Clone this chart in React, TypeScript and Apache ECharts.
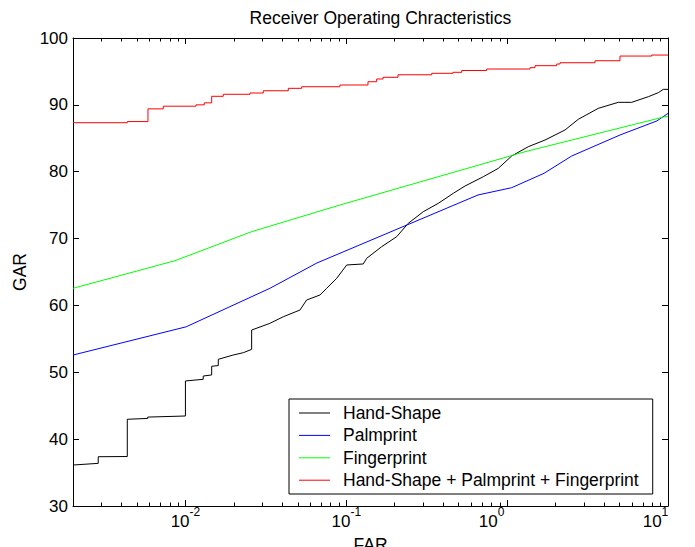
import React, { useEffect, useRef } from "react";
import * as echarts from "echarts";

const FONT = "'Liberation Sans', Arial, Helvetica, sans-serif";

const TITLE = "Receiver Operating Chracteristics";
const X_NAME = "FAR";
const Y_NAME = "GAR";
const SERIES_NAMES = [
  "Hand-Shape",
  "Palmprint",
  "Fingerprint",
  "Hand-Shape + Palmprint + Fingerprint",
];
const SERIES_COLORS = ["#000000", "#0000ff", "#00ff00", "#ff0000"];

const X_MIN = 0.002;
const X_MAX = 10;
const X_MAJOR_EXPONENTS = [-2, -1, 0, 1];
const Y_MIN = 30;
const Y_MAX = 100;
const Y_STEP = 10;

// Hand-Shape (black)
const HAND_FAR = [
  0.002, 0.00287, 0.00287, 0.00435, 0.00435, 0.00583, 0.00583, 0.01, 0.01,
  0.0129, 0.0129, 0.01456, 0.01456, 0.016, 0.016, 0.0198, 0.0229, 0.0258,
  0.0258, 0.0335, 0.0406, 0.0515, 0.0567, 0.0686, 0.0755, 0.0872, 0.1006,
  0.1275, 0.1339, 0.166, 0.2057, 0.2428, 0.3011, 0.3732, 0.4626, 0.547,
  0.7106, 0.881, 1.067, 1.353, 1.72, 2.289, 2.769, 3.687, 4.909, 5.948, 7.541,
  8.7, 9.35, 10,
];
const HAND_GAR = [
  36.13, 36.38, 37.37, 37.4, 42.97, 43.1, 43.3, 43.46, 48.7, 48.95, 49.44,
  49.6, 50.9, 51.0, 51.94, 52.58, 52.93, 53.43, 56.32, 57.32, 58.31, 59.31,
  60.81, 61.56, 62.56, 64.06, 66.05, 66.2, 67.05, 68.79, 70.28, 72.28, 74.02,
  75.27, 76.77, 77.86, 79.25, 80.5, 82.35, 83.74, 84.74, 86.24, 87.84, 89.48,
  90.38, 90.38, 91.22, 91.82, 92.32, 92.32,
];

// Palmprint (blue)
const PALM_FAR = [0.002, 0.0101, 0.0335, 0.0657, 0.659, 1.067, 1.695, 2.52, 5.03, 8.54, 10];
const PALM_GAR = [52.58, 56.8, 62.56, 66.35, 76.52, 77.61, 79.76, 82.35, 85.49, 87.6, 88.73];

// Fingerprint (green)
const FINGER_FAR = [0.002, 0.00861, 0.0258, 0.0913, 1.291, 9.58, 10];
const FINGER_GAR = [62.56, 66.69, 71.03, 75.02, 82.99, 88.23, 88.3];

// Fusion (red)
const FUSION_FAR = [
  0.002, 0.00435, 0.00585, 0.00728, 0.01163, 0.0131, 0.01456, 0.01719,
  0.02519, 0.03048, 0.04359, 0.05282, 0.0913, 0.1364, 0.1545, 0.1691, 0.2096,
  0.3396, 0.4607, 0.5218, 0.7462, 1.387, 1.49, 2.032, 2.131, 3.518, 5.03,
  7.92, 10,
];
const FUSION_GAR = [
  87.33, 87.5, 89.4, 89.8, 90.0, 90.3, 91.28, 91.58, 91.77, 92.11, 92.47,
  92.71, 92.97, 93.46, 93.87, 94.12, 94.5, 94.72, 94.87, 95.14, 95.36, 95.56,
  95.86, 96.11, 96.3, 96.6, 97.3, 97.45, 97.45,
];

function measure(text: string, size: number): number {
  const ctx = document.createElement("canvas").getContext("2d");
  if (!ctx) return text.length * size * 0.556;
  ctx.font = `${size}px ${FONT}`;
  return ctx.measureText(text).width;
}

export default function App() {
  const ref = useRef<HTMLDivElement>(null);

  useEffect(() => {
    if (!ref.current) return;
    const chart = echarts.init(ref.current, null, { renderer: "svg" });
    const lg = (v: number) => Math.log10(v);
    const toPts = (f: number[], g: number[]) => f.map((x, i) => [lg(x), g[i]]);
    const xmin = lg(X_MIN);
    const xmax = lg(X_MAX);
    const major = X_MAJOR_EXPONENTS.slice();
    const minor: number[] = [];
    for (let d = -3; d <= 0; d++) {
      for (let k = 2; k <= 9; k++) {
        const v = lg(k) + d;
        if (v > xmin + 1e-9 && v < xmax) minor.push(v);
      }
    }

    const BASE_SIZE = 17;
    const SUP_SIZE = 12;
    const w10 = measure("10", BASE_SIZE);
    // leftward shift of the last two labels, as in the reference
    const extraPad = (e: number) => (e === 0 ? 31 : e === 1 ? 25 : 0);

    const rich: any = {
      b: { fontSize: BASE_SIZE, fontFamily: FONT, color: "#000", lineHeight: 15 },
      s: { fontSize: SUP_SIZE, fontFamily: FONT, color: "#000", lineHeight: 4 },
      sp: { width: w10, fontSize: 1, lineHeight: 1 },
    };
    major.forEach((e, i) => {
      rich[`bp${i}`] = { width: measure(String(e), SUP_SIZE), fontSize: 1, lineHeight: 1 };
      rich[`ex${i}`] = { width: extraPad(e) + 0.01, fontSize: 1, lineHeight: 1 };
    });

    const baseX = (position: "top" | "bottom") => ({
      type: "value",
      position,
      min: xmin,
      max: xmax,
      splitLine: { show: false },
      axisLine: { show: true, onZero: false, lineStyle: { color: "#000", width: 1 } },
    });

    const option: any = {
      animation: false,
      backgroundColor: "#ffffff",
      grid: {
        left: 73,
        right: 27,
        top: 38,
        bottom: 41,
        containLabel: false,
        outerBoundsMode: "none",
      },
      graphic: [
        {
          type: "text",
          x: 380.4,
          y: 18,
          style: {
            text: TITLE,
            fontSize: 17.5,
            fontFamily: FONT,
            fill: "#000",
            align: "center",
            verticalAlign: "middle",
          },
        },
      ],
      legend: {
        orient: "vertical",
        left: 289,
        top: 399,
        data: SERIES_NAMES,
        icon: "rect",
        itemWidth: 31,
        itemHeight: 1,
        itemGap: 4.4,
        padding: [5, 14, 4.8, 10],
        backgroundColor: "#ffffff",
        borderColor: "#000000",
        borderWidth: 1,
        borderRadius: 0,
        selectedMode: false,
        textStyle: {
          fontSize: 17.5,
          fontFamily: FONT,
          color: "#000",
          lineHeight: 18,
          padding: [0, 0, 0, 8],
        },
      },
      xAxis: [
        {
          ...baseX("bottom"),
          name: X_NAME,
          nameLocation: "middle",
          nameGap: 30,
          nameTextStyle: { fontSize: 17.5, fontFamily: FONT, color: "#000" },
          axisTick: {
            show: true,
            inside: true,
            length: 6,
            customValues: major,
            lineStyle: { color: "#000", width: 1 },
          },
          axisLabel: {
            show: true,
            customValues: major,
            margin: 3.6,
            formatter: (v: number) => {
              const e = Math.round(v);
              const i = major.indexOf(e);
              return `{sp|}{s|${e}}{ex${i}|}\n{b|10}{bp${i}|}{ex${i}|}`;
            },
            rich,
          },
        },
        {
          ...baseX("bottom"),
          axisLine: { show: false, onZero: false },
          axisTick: {
            show: true,
            inside: true,
            length: 3.5,
            customValues: minor,
            lineStyle: { color: "#000", width: 1 },
          },
          axisLabel: { show: false },
        },
        {
          ...baseX("top"),
          axisTick: {
            show: true,
            inside: true,
            length: 6,
            customValues: major,
            lineStyle: { color: "#000", width: 1 },
          },
          axisLabel: { show: false },
        },
        {
          ...baseX("top"),
          axisLine: { show: false, onZero: false },
          axisTick: {
            show: true,
            inside: true,
            length: 3.5,
            customValues: minor,
            lineStyle: { color: "#000", width: 1 },
          },
          axisLabel: { show: false },
        },
      ],
      yAxis: [
        {
          type: "value",
          position: "left",
          min: Y_MIN,
          max: Y_MAX,
          interval: Y_STEP,
          name: Y_NAME,
          nameLocation: "middle",
          nameGap: 42,
          nameTextStyle: { fontSize: 17.5, fontFamily: FONT, color: "#000" },
          splitLine: { show: false },
          axisLine: { show: true, onZero: false, lineStyle: { color: "#000", width: 1 } },
          axisTick: { show: true, inside: true, length: 6, lineStyle: { color: "#000", width: 1 } },
          axisLabel: { show: true, margin: 5, fontSize: 17, fontFamily: FONT, color: "#000" },
        },
        {
          type: "value",
          position: "right",
          min: Y_MIN,
          max: Y_MAX,
          interval: Y_STEP,
          splitLine: { show: false },
          axisLine: { show: true, onZero: false, lineStyle: { color: "#000", width: 1 } },
          axisTick: { show: true, inside: true, length: 6, lineStyle: { color: "#000", width: 1 } },
          axisLabel: { show: false },
        },
      ],
      series: [
        {
          name: SERIES_NAMES[0],
          type: "line",
          data: toPts(HAND_FAR, HAND_GAR),
          symbol: "none",
          lineStyle: { color: SERIES_COLORS[0], width: 1 },
          itemStyle: { color: SERIES_COLORS[0] },
        },
        {
          name: SERIES_NAMES[1],
          type: "line",
          data: toPts(PALM_FAR, PALM_GAR),
          symbol: "none",
          lineStyle: { color: SERIES_COLORS[1], width: 1 },
          itemStyle: { color: SERIES_COLORS[1] },
        },
        {
          name: SERIES_NAMES[2],
          type: "line",
          data: toPts(FINGER_FAR, FINGER_GAR),
          symbol: "none",
          lineStyle: { color: SERIES_COLORS[2], width: 1 },
          itemStyle: { color: SERIES_COLORS[2] },
        },
        {
          name: SERIES_NAMES[3],
          type: "line",
          step: "end",
          data: toPts(FUSION_FAR, FUSION_GAR),
          symbol: "none",
          lineStyle: { color: SERIES_COLORS[3], width: 1 },
          itemStyle: { color: SERIES_COLORS[3] },
        },
      ],
    };

    chart.setOption(option);
    return () => {
      chart.dispose();
    };
  }, []);

  return (
    <div
      ref={ref}
      style={{ position: "fixed", left: 0, top: 0, width: 695, height: 547, background: "#fff" }}
    />
  );
}
